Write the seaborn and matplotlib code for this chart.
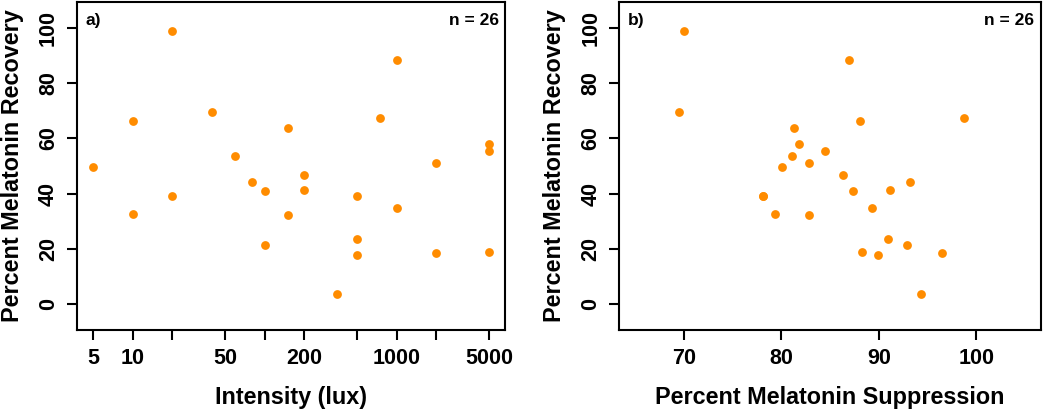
import numpy as np
import pandas as pd
import matplotlib
matplotlib.use("Agg")
import matplotlib.pyplot as plt
import seaborn as sns

# one row per subject: light intensity, suppression and recovery (%)
intensity = [5, 10, 10, 20, 20, 40, 60, 80, 100, 100, 150, 150, 200, 200,
             350, 500, 500, 500, 750, 1000, 1000, 2000, 2000, 5000, 5000, 5000]
suppression = [80.1, 88.1, 79.4, 70.0, 78.1, 69.5, 81.1, 93.2, 87.4, 92.9,
               81.3, 82.9, 86.3, 91.2, 94.3, 78.1, 91.0, 89.9, 98.7, 86.9,
               89.3, 82.9, 96.5, 81.85, 84.5, 88.3]
recovery = [49.7, 66.2, 32.5, 98.8, 39.1, 69.4, 53.7, 44.3, 40.9, 21.4,
            63.8, 32.4, 46.6, 41.4, 3.7, 39.0, 23.4, 17.6, 67.5, 88.5,
            34.6, 50.9, 18.6, 57.8, 55.5, 18.9]

lux_ticks = [5, 10, 20, 50, 100, 200, 500, 1000, 2000, 5000]
lux_labels = ['5', '10', '', '50', '', '200', '', '1000', '', '5000']
supp_ticks = [70, 80, 90, 100]
rec_ticks = [0, 20, 40, 60, 80, 100]

df = pd.DataFrame({'Intensity': intensity, 'Suppression': suppression,
                   'Recovery': recovery})

sns.set_theme(style="white")
plt.rcParams['font.family'] = ['Liberation Sans', 'DejaVu Sans']
plt.rcParams['font.weight'] = 'bold'
plt.rcParams['text.color'] = 'black'
plt.rcParams['axes.labelcolor'] = 'black'
plt.rcParams['xtick.color'] = 'black'
plt.rcParams['ytick.color'] = 'black'

fig = plt.figure(figsize=(10.5, 4.09), dpi=100)
ax1 = fig.add_axes([0.0733, 0.1932, 0.4076, 0.802])
ax2 = fig.add_axes([0.5898, 0.1932, 0.4013, 0.802])

orange = '#FF8C00'
sns.scatterplot(data=df, x='Intensity', y='Recovery', ax=ax1, color=orange,
                s=40, linewidth=0)
sns.scatterplot(data=df, x='Suppression', y='Recovery', ax=ax2, color=orange,
                s=40, linewidth=0)

ax1.set_xscale('log')
ax1.set_xlim(3.79, 6600)
ax1.set_xticks(lux_ticks)
ax1.set_xticklabels(lux_labels)
ax1.minorticks_off()
ax2.set_xlim(63.4, 106.6)
ax2.set_xticks(supp_ticks)

for ax, lab, xl in [(ax1, 'a)', 'Intensity (lux)'),
                    (ax2, 'b)', 'Percent Melatonin Suppression')]:
    ax.set_ylim(-9.4, 109.4)
    ax.set_yticks(rec_ticks)
    ax.set_xlabel(xl, fontsize=16.8, fontweight='bold', labelpad=12)
    ax.set_ylabel('Percent Melatonin Recovery', fontsize=16.8,
                  fontweight='bold', labelpad=10)
    ax.tick_params(axis='both', direction='out', length=7, width=1.5,
                   labelsize=15.5, labelcolor='black', color='black',
                   bottom=True, left=True, pad=6)
    for t in ax.get_yticklabels():
        t.set_rotation(90)
        t.set_va('center')
    for sp in ax.spines.values():
        sp.set_color('black')
        sp.set_linewidth(1.5)
    ax.text(0.02, 0.965, lab, transform=ax.transAxes, ha='left', va='top',
            fontsize=12.5, fontweight='bold', color='black')
    ax.text(0.985, 0.965, 'n = 26', transform=ax.transAxes, ha='right',
            va='top', fontsize=12.5, fontweight='bold', color='black')

fig.savefig('out.png', dpi=100)
